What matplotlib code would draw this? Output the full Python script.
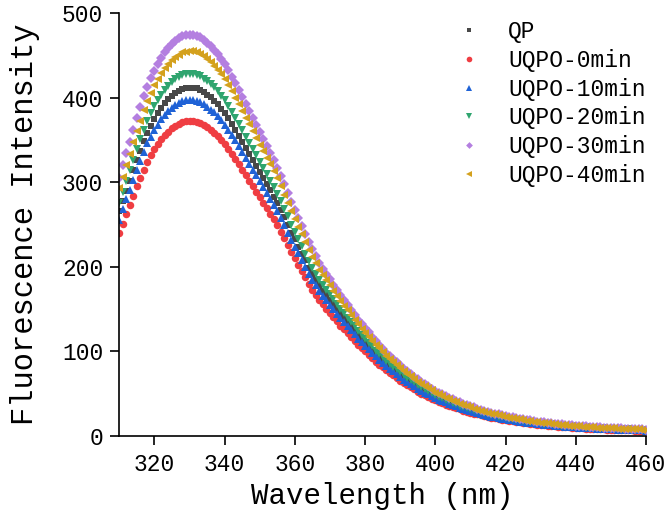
import matplotlib
matplotlib.use("Agg")
import matplotlib.pyplot as plt
import numpy as np

# emission spectra, one point per nm from 310 to 460 nm
wavelength = np.arange(310, 461)

qp = [266, 277.5, 290, 302, 314, 326.5, 337.5, 348.5, 358.5, 367,
      375, 381.5, 388, 393.5, 398, 402.5, 406, 408, 410.5, 411.5,
      412, 412, 411, 409, 406.5, 403.5, 400.5, 396.5, 392, 387,
      381.5, 375.5, 369, 362, 355, 348, 340.5, 333.5, 326.5, 319,
      312, 304.5, 297.5, 290.5, 283, 275.5, 267, 258.5, 249.5, 240.5,
      232.5, 224, 215.5, 207.5, 199, 191.5, 184.5, 178, 172, 166.5,
      161, 155.5, 150, 144.5, 139.5, 134.5, 129.5, 124.5, 119.5, 115,
      110.5, 106, 102, 97.5, 93.5, 89.5, 85.5, 82.5, 79, 76,
      72.5, 69, 66.5, 63.5, 61, 58, 55.5, 53.1, 50.9, 48.7,
      46.5, 44.6, 42.8, 41.0, 39.4, 37.7, 36.2, 34.6, 33.2, 31.9,
      30.5, 29.3, 28.1, 27.0, 25.9, 24.9, 23.9, 23.0, 22.1, 21.2,
      20.5, 19.7, 19.0, 18.4, 17.7, 17.0, 16.5, 15.9, 15.4, 14.8,
      14.4, 13.9, 13.5, 13.1, 12.6, 12.2, 11.8, 11.5, 11.2, 10.8,
      10.5, 10.3, 10.0, 9.7, 9.5, 9.3, 9.1, 8.8, 8.6, 8.4,
      8.2, 8.1, 7.9, 7.7, 7.5, 7.4, 7.2, 7.1, 7.0, 6.7,
      6.6]

uqpo_0 = [240, 251, 262, 273, 284, 295, 305, 315, 324, 332,
          339, 345, 351, 356, 360, 364, 367, 369, 371, 372,
          372.5, 372.5, 371.5, 370, 367.5, 365, 362, 358.5, 354.5, 350,
          345, 339.5, 333.5, 327.5, 321, 314.5, 308, 301.5, 295, 288.5,
          282, 275.5, 269, 262.5, 256, 249, 241.5, 233.5, 225.5, 217.5,
          210, 202.5, 195, 187.5, 180, 173, 167, 161, 155.5, 150.5,
          145.5, 140.5, 135.5, 130.5, 126, 121.5, 117, 112.5, 108, 104,
          100, 96, 92, 88, 84.5, 81, 77.5, 74.5, 71.5, 68.5,
          65.5, 62.5, 60, 57.5, 55, 52.5, 50, 48, 46, 44,
          42, 40.3, 38.7, 37.1, 35.6, 34.1, 32.7, 31.3, 30, 28.8,
          27.6, 26.5, 25.4, 24.4, 23.4, 22.5, 21.6, 20.8, 20, 19.2,
          18.5, 17.8, 17.2, 16.6, 16, 15.4, 14.9, 14.4, 13.9, 13.4,
          13, 12.6, 12.2, 11.8, 11.4, 11, 10.7, 10.4, 10.1, 9.8,
          9.5, 9.3, 9.0, 8.8, 8.6, 8.4, 8.2, 8.0, 7.8, 7.6,
          7.4, 7.3, 7.1, 7.0, 6.8, 6.7, 6.5, 6.4, 6.3, 6.1,
          6.0]

uqpo_10 = [255, 268, 280, 291, 303, 315, 325, 336, 346, 354,
           362, 368, 374.5, 380, 384, 388, 391.5, 394, 396, 397,
           397.5, 397.5, 396.5, 395, 392, 389.5, 386, 382.5, 378, 373.5,
           368, 362, 356, 349.5, 342.5, 335.5, 328.5, 321.5, 315, 308,
           301, 294, 287, 280, 273, 265.5, 257.5, 249, 240.5, 232,
           224, 216, 208, 200, 192, 184.5, 178, 172, 166, 160.5,
           155, 150, 144.5, 139, 134.5, 129.5, 125, 120, 115, 111,
           106.5, 102.5, 98, 94, 90, 86.5, 82.5, 79.5, 76.5, 73,
           70, 66.5, 64, 61.5, 58.5, 56, 53.5, 51.2, 49.1, 46.9,
           44.8, 43.0, 41.3, 39.6, 38.0, 36.4, 34.9, 33.4, 32.0, 30.7,
           29.4, 28.3, 27.1, 26.0, 25.0, 24.0, 23.0, 22.2, 21.3, 20.5,
           19.7, 19.0, 18.4, 17.7, 17.1, 16.4, 15.9, 15.4, 14.8, 14.3,
           13.9, 13.4, 13.0, 12.6, 12.2, 11.7, 11.4, 11.1, 10.8, 10.5,
           10.1, 9.9, 9.6, 9.4, 9.2, 9.0, 8.7, 8.5, 8.3, 8.1,
           7.9, 7.8, 7.6, 7.5, 7.3, 7.1, 6.9, 6.8, 6.7, 6.5,
           6.4]

uqpo_20 = [276, 288.5, 301.5, 314, 326.5, 339, 351, 362, 372.5, 382,
           390, 397, 403.5, 409.5, 414, 418.5, 422, 424.5, 426.5, 428,
           428.5, 428.5, 427, 425.5, 422.5, 420, 416.5, 412.5, 407.5, 402.5,
           397, 390.5, 383.5, 376.5, 369, 361.5, 354, 346.5, 339.5, 332,
           324.5, 317, 309.5, 302, 294.5, 286.5, 277.5, 268.5, 259.5, 250,
           241.5, 233, 224.5, 215.5, 207, 199, 192, 185, 179, 173,
           167.5, 161.5, 156, 150, 145, 139.5, 134.5, 129.5, 124, 119.5,
           115, 110.5, 106, 101, 97, 93, 89, 85.5, 82, 79,
           75.5, 72, 69, 66, 63.5, 60.5, 57.5, 55.2, 52.9, 50.6,
           48.3, 46.3, 44.5, 42.7, 40.9, 39.2, 37.6, 36.0, 34.5, 33.1,
           31.7, 30.5, 29.2, 28.1, 26.9, 25.9, 24.8, 23.9, 23.0, 22.1,
           21.3, 20.5, 19.8, 19.1, 18.4, 17.7, 17.1, 16.6, 16.0, 15.4,
           15.0, 14.5, 14.0, 13.6, 13.1, 12.7, 12.3, 12.0, 11.6, 11.3,
           10.9, 10.7, 10.4, 10.1, 9.9, 9.7, 9.4, 9.2, 9.0, 8.7,
           8.5, 8.4, 8.2, 8.1, 7.8, 7.7, 7.5, 7.4, 7.2, 7.0,
           6.9]

uqpo_30 = [305.5, 320, 334, 348, 362, 376, 388.5, 401.5, 413, 423,
           432, 439.5, 447, 453.5, 458.5, 463.5, 467.5, 470, 472.5, 474,
           474.5, 474.5, 473.5, 471.5, 468, 465, 461, 456.5, 451.5, 446,
           439.5, 432.5, 425, 417, 409, 400.5, 392.5, 384, 376, 367.5,
           359.5, 351, 342.5, 334.5, 326, 317, 307.5, 297.5, 287.5, 277,
           267.5, 258, 248.5, 239, 229.5, 220.5, 213, 205, 198, 191.5,
           185.5, 179, 172.5, 166.5, 160.5, 155, 149, 143.5, 137.5, 132.5,
           127.5, 122.5, 117, 112, 107.5, 103, 98.5, 95, 91, 87.5,
           83.5, 79.5, 76.5, 73.5, 70.1, 66.9, 63.7, 61.2, 58.6, 56.1,
           53.5, 51.3, 49.3, 47.3, 45.4, 43.4, 41.7, 39.9, 38.2, 36.7,
           35.2, 33.8, 32.4, 31.1, 29.8, 28.7, 27.5, 26.5, 25.5, 24.5,
           23.6, 22.7, 21.9, 21.1, 20.4, 19.6, 19.0, 18.3, 17.7, 17.1,
           16.6, 16.1, 15.5, 15.0, 14.5, 14.0, 13.6, 13.2, 12.9, 12.5,
           12.1, 11.8, 11.5, 11.2, 11.0, 10.7, 10.4, 10.2, 9.9, 9.7,
           9.4, 9.3, 9.0, 8.9, 8.7, 8.5, 8.3, 8.2, 8.0, 7.8,
           7.6]

uqpo_40 = [293, 306.5, 320, 333.5, 347, 360.5, 372.5, 385, 396, 405.5,
           414.5, 421.5, 429, 435, 440, 445, 448.5, 451, 453.5, 454.5,
           455, 455, 454, 452, 449, 446, 442.5, 438, 433, 427.5,
           421.5, 415, 407.5, 400, 392.5, 384.5, 376.5, 368.5, 360.5, 352.5,
           344.5, 336.5, 328.5, 321, 313, 304.5, 295, 285.5, 275.5, 266,
           256.5, 247.5, 238.5, 229, 220, 211.5, 204, 196.5, 190, 184,
           178, 171.5, 165.5, 159.5, 154, 148.5, 143, 137.5, 132, 127,
           122, 117.5, 112.5, 107.5, 103.5, 99, 94.5, 91, 87.5, 83.5,
           80, 76.5, 73.5, 70.5, 67.2, 64.2, 61.1, 58.7, 56.2, 53.8,
           51.3, 49.2, 47.3, 45.3, 43.5, 41.7, 40.0, 38.2, 36.7, 35.2,
           33.7, 32.4, 31.0, 29.8, 28.6, 27.5, 26.4, 25.4, 24.4, 23.5,
           22.6, 21.8, 21.0, 20.3, 19.6, 18.8, 18.2, 17.6, 17.0, 16.4,
           15.9, 15.4, 14.9, 14.4, 13.9, 13.4, 13.1, 12.7, 12.3, 12.0,
           11.6, 11.4, 11.0, 10.8, 10.5, 10.3, 10.0, 9.8, 9.5, 9.3,
           9.0, 8.9, 8.7, 8.6, 8.3, 8.2, 7.9, 7.8, 7.7, 7.5,
           7.3]

labels = ["QP", "UQPO-0min", "UQPO-10min", "UQPO-20min", "UQPO-30min", "UQPO-40min"]
series = [qp, uqpo_0, uqpo_10, uqpo_20, uqpo_30, uqpo_40]
colors = ["#484848", "#ef3d42", "#1f62d6", "#2fa56f", "#b47fe0", "#d4a11e"]
markers = ["s", "o", "^", "v", "D", "<"]
sizes = [4.8, 5.4, 5.8, 5.8, 4.6, 5.8]

plt.rcParams["font.family"] = ["Liberation Mono", "DejaVu Sans Mono"]

fig = plt.figure(figsize=(6.69, 5.24), dpi=100)
ax = fig.add_axes([0.1783, 0.168, 0.7873, 0.807])

for y, lab, c, m, ms in zip(series, labels, colors, markers, sizes):
    ax.plot(wavelength, y, linestyle="none", marker=m, ms=ms, color=c,
            markeredgewidth=0, label=lab)

ax.set_xlim(310, 460)
ax.set_ylim(0, 500)
ax.set_xticks(np.arange(320, 461, 20))
ax.set_yticks(np.arange(0, 501, 100))
ax.spines["top"].set_visible(False)
ax.spines["right"].set_visible(False)
for s in ["left", "bottom"]:
    ax.spines[s].set_linewidth(1.2)
ax.tick_params(direction="out", length=6.5, width=1.2, labelsize=16.5, pad=5)
ax.tick_params(axis="x", pad=6)

ax.set_xlabel("Wavelength (nm)", fontsize=21, labelpad=4)
ax.set_ylabel("Fluorescence Intensity", fontsize=22, labelpad=16)

leg = ax.legend(loc="upper left", bbox_to_anchor=(0.625, 1.005), frameon=False,
                fontsize=16.5, markerscale=0.75, handlelength=1.0,
                handletextpad=1.2, labelspacing=0.25, borderaxespad=0)

fig.savefig("out.png", dpi=100)
